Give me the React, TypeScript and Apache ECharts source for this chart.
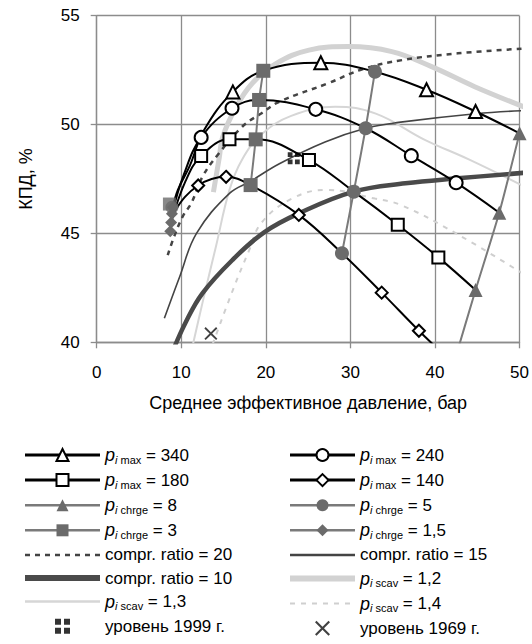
import React, { useEffect, useRef } from "react";
import * as echarts from "echarts";

// ---- data (BMEP, bar ; efficiency, %) ----
const xTicks = [0, 10, 20, 30, 40, 50];
const yTicks = [40, 45, 50, 55];

const pmax340 = [[9.0, 46.2], [9.6, 47.0], [11.0, 48.1], [12.7, 49.75], [16.1, 51.5], [19.7, 52.47], [26.5, 52.84], [32.9, 52.43], [39.0, 51.6], [44.8, 50.6], [50.0, 49.6]];
const pmax340Marks = [4, 6, 8, 9];
const pmax240 = [[8.9, 45.9], [10.3, 47.7], [12.35, 49.41], [16.0, 50.75], [19.2, 51.13], [25.9, 50.7], [31.8, 49.83], [37.2, 48.57], [42.5, 47.33], [47.6, 45.95]];
const pmax240Marks = [2, 3, 5, 7, 8];
const pmax180 = [[8.8, 45.5], [10.5, 47.4], [12.35, 48.56], [15.7, 49.32], [18.8, 49.32], [25.1, 48.37], [30.4, 46.92], [35.6, 45.4], [40.4, 43.9], [44.8, 42.4]];
const pmax180Marks = [2, 3, 5, 7, 8];
const pmax140 = [[8.7, 45.1], [9.2, 46.0], [12.0, 47.2], [15.3, 47.6], [18.2, 47.22], [23.9, 45.85], [29.0, 44.09], [33.7, 42.28], [38.1, 40.53], [40.6, 39.6]];
const pmax140Marks = [2, 3, 5, 7, 8];

const chrge8 = [[42.2, 39.0], [44.8, 42.4], [47.6, 45.95], [50.0, 49.6]];
const chrge5 = [[29.0, 44.09], [30.4, 46.92], [31.8, 49.83], [32.9, 52.43]];
const chrge3 = [[18.2, 47.22], [18.8, 49.32], [19.2, 51.13], [19.7, 52.47]];
const chrge15 = [[8.7, 45.1], [8.8, 45.5], [8.9, 45.9], [9.0, 46.2]];
const chrge3Start = [[8.6, 46.35]];
const chrge5Start = [[8.9, 46.2]];

const compr20 = [[8.4, 44.0], [9.2, 44.9], [10.2, 45.8], [11.2, 46.4], [12.5, 47.6], [14.3, 48.6], [17.2, 49.9], [19.4, 50.5], [21.6, 51.05], [27.4, 51.9], [31.4, 52.54], [36.1, 52.96], [42.7, 53.27], [51.0, 53.5]];
const compr15 = [[8.0, 41.1], [9.8, 43.0], [11.8, 45.0], [15.7, 46.84], [18.2, 47.4], [21.6, 48.2], [27.0, 49.2], [31.8, 49.83], [35.7, 50.1], [44.8, 50.5], [51.0, 50.65]];
const compr10 = [[9.0, 39.6], [10.5, 40.9], [12.5, 42.25], [16.1, 43.8], [19.8, 45.05], [23.9, 45.92], [30.4, 46.92], [36.5, 47.3], [42.7, 47.53], [51.0, 47.8]];

const scav12 = [[13.8, 46.9], [14.5, 48.5], [14.9, 49.44], [16.5, 50.82], [18.4, 51.9], [21.2, 52.8], [25.1, 53.42], [29.8, 53.58], [34.9, 53.35], [39.6, 52.66], [44.7, 51.74], [50.6, 50.8]];
const scav13 = [[11.2, 39.6], [12.5, 41.8], [14.1, 44.4], [15.7, 47.0], [17.2, 48.4], [19.5, 49.55], [23.0, 50.4], [28.2, 50.82], [33.0, 50.5], [38.8, 49.3], [44.0, 48.4], [50.6, 47.15]];
const scav14 = [[13.7, 39.9], [16.1, 42.4], [18.0, 44.2], [19.5, 45.5], [23.1, 46.6], [27.1, 47.0], [32.9, 46.6], [36.0, 46.3], [42.5, 45.0], [50.2, 43.2]];

const level1999 = [[23.3, 48.45]];
const level1969 = [[13.5, 40.4]];

const legendLeft = ["p340", "p180", "c8", "c3", "cr20", "cr10", "s13", "y1999"];
const legendRight = ["p240", "p140", "c5", "c15", "cr15", "s12", "s14", "y1969"];
const plainNames = ["cr20", "cr15", "cr10", "s12", "s13", "s14"];
const legendText: Record<string, string> = {
  p340: "{p|p}{i|i}{s| max}{t| = 340}",
  p240: "{p|p}{i|i}{s| max}{t| = 240}",
  p180: "{p|p}{i|i}{s| max}{t| = 180}",
  p140: "{p|p}{i|i}{s| max}{t| = 140}",
  c8: "{p|p}{i|i}{s| chrge}{t| = 8}",
  c5: "{p|p}{i|i}{s| chrge}{t| = 5}",
  c3: "{p|p}{i|i}{s| chrge}{t| = 3}",
  c15: "{p|p}{i|i}{s| chrge}{t| = 1,5}",
  cr20: "{t|compr. ratio = 20}",
  cr15: "{t|compr. ratio = 15}",
  cr10: "{t|compr. ratio = 10}",
  s12: "{p|p}{i|i}{s| scav}{t| = 1,2}",
  s13: "{p|p}{i|i}{s| scav}{t| = 1,3}",
  s14: "{p|p}{i|i}{s| scav}{t| = 1,4}",
  y1999: "{t|уровень 1999 г.}",
  y1969: "{t|уровень 1969 г.}",
};

const FONT = "Liberation Sans, Arial, sans-serif";
const GRAYM = "#6b6b6b";
const SQ4 = "path://M0,0h4v4h-4zM6,0h4v4h-4zM0,6h4v4h-4zM6,6h4v4h-4z";
const XMARK = "path://M1,0L5,4L9,0L10,1L6,5L10,9L9,10L5,6L1,10L0,9L4,5L0,1Z";

const legendLineWidth: Record<string, number> = {
  p340: 3, p240: 3, p180: 3, p140: 3, c8: 2.5, c5: 2.5, c3: 2.5, c15: 2.5,
  cr20: 2.5, cr15: 2.5, cr10: 6, s12: 6, s13: 2.5, s14: 2,
};

function withMarks(pts: number[][], marks: number[]) {
  return pts.map((p, i) => (marks.includes(i) ? { value: p } : { value: p, symbol: "none" }));
}

function legendData(names: string[]) {
  return names.map((n) => {
    const item: any = { name: n };
    if (legendLineWidth[n]) item.lineStyle = { width: legendLineWidth[n] };
    if (plainNames.includes(n)) item.itemStyle = { opacity: 0, color: "rgba(0,0,0,0)" };
    return item;
  });
}

export default function App() {
  const ref = useRef<HTMLDivElement>(null);
  useEffect(() => {
    if (!ref.current) return;
    const chart = echarts.init(ref.current, null, { renderer: "svg" });
    const pmaxSeries = (name: string, pts: number[][], marks: number[], symbol: string, size: number) => ({
      name, type: "line", data: withMarks(pts, marks), smooth: 0.4, symbol, symbolSize: size, showSymbol: true,
      lineStyle: { color: "#000", width: 2 }, itemStyle: { color: "#fff", borderColor: "#000", borderWidth: 2 }, z: 5,
    });
    const chrgeSeries = (name: string, pts: number[][], symbol: string, size: number) => ({
      name, type: "line", data: pts, smooth: 0.2, symbol, symbolSize: size,
      lineStyle: { color: "#7a7a7a", width: 2 }, itemStyle: { color: GRAYM }, z: 6,
    });
    const plain = (name: string, pts: number[][], color: string, width: number, type: any, z: number) => ({
      name, type: "line", data: pts, smooth: 0.4, symbol: "none", showSymbol: false,
      lineStyle: { color, width, type }, itemStyle: { color, opacity: 0 }, z,
    });
    const rich = {
      p: { fontStyle: "italic", fontSize: 18, fontFamily: FONT, color: "#000", lineHeight: 20 },
      i: { fontStyle: "italic", fontSize: 11, fontFamily: FONT, color: "#000", lineHeight: 10, verticalAlign: "bottom" },
      s: { fontSize: 11, fontFamily: FONT, color: "#000", lineHeight: 10, verticalAlign: "bottom" },
      t: { fontSize: 17, fontFamily: FONT, color: "#000", lineHeight: 20 },
    };
    const legendBase = {
      orient: "vertical", selectedMode: false, itemHeight: 15, itemGap: 6.1, padding: 0,
      textStyle: { rich, fontFamily: FONT, fontSize: 17, color: "#000" },
      formatter: (n: string) => legendText[n],
    };
    chart.setOption({
      animation: false,
      backgroundColor: "#fff",
      grid: { left: 96.7, right: 10.3, top: 15.7, bottom: 301.7 },
      xAxis: {
        type: "value", min: xTicks[0], max: xTicks[xTicks.length - 1], interval: 10,
        name: "Среднее эффективное давление, бар", nameLocation: "middle", nameGap: 52,
        nameTextStyle: { fontFamily: FONT, fontSize: 18, color: "#000" },
        axisLine: { show: true, lineStyle: { color: "#8c8c8c", width: 1.3 } },
        axisTick: { show: true, length: 6, lineStyle: { color: "#8c8c8c", width: 1.3 } },
        axisLabel: { margin: 22, fontFamily: FONT, fontSize: 17, color: "#000" },
        splitLine: { show: true, lineStyle: { color: "#8c8c8c", width: 1.3 } },
      },
      yAxis: {
        type: "value", min: yTicks[0], max: yTicks[yTicks.length - 1], interval: 5,
        name: "КПД, %", nameLocation: "middle", nameGap: 62, nameRotate: 90,
        nameTextStyle: { fontFamily: FONT, fontSize: 18, color: "#000" },
        axisLine: { show: true, lineStyle: { color: "#8c8c8c", width: 1.3 } },
        axisTick: { show: true, length: 6, lineStyle: { color: "#8c8c8c", width: 1.3 } },
        axisLabel: { margin: 17, fontFamily: FONT, fontSize: 17, color: "#000" },
        splitLine: { show: true, lineStyle: { color: "#8c8c8c", width: 1.3 } },
      },
      legend: [
        { ...legendBase, left: 22, top: 446, itemWidth: 75, data: legendData(legendLeft) },
        { ...legendBase, left: 287, top: 446, itemWidth: 65, data: legendData(legendRight) },
      ],
      series: [
        plain("s12", scav12, "#d2d2d2", 5, "solid", 1),
        plain("s13", scav13, "#d6d6d6", 2, "solid", 1),
        plain("s14", scav14, "#cfcfcf", 2, [5, 6], 1),
        plain("cr20", compr20, "#444", 2.5, [5, 5], 2),
        plain("cr15", compr15, "#444", 1.6, "solid", 2),
        plain("cr10", compr10, "#4a4a4a", 4.5, "solid", 2),
        pmaxSeries("p340", pmax340, pmax340Marks, "triangle", 13),
        pmaxSeries("p240", pmax240, pmax240Marks, "circle", 13),
        pmaxSeries("p180", pmax180, pmax180Marks, "rect", 12),
        pmaxSeries("p140", pmax140, pmax140Marks, "diamond", 12),
        chrgeSeries("c8", chrge8, "triangle", 14),
        chrgeSeries("c5", chrge5, "circle", 14),
        chrgeSeries("c3", chrge3, "rect", 14),
        chrgeSeries("c15", chrge15, "diamond", 12),
        { name: "c3start", type: "scatter", data: chrge3Start, symbol: "rect", symbolSize: 13, itemStyle: { color: GRAYM }, z: 6 },
        { name: "c5start", type: "scatter", data: chrge5Start, symbol: "circle", symbolSize: 13, itemStyle: { color: GRAYM }, z: 6 },
        { name: "y1999", type: "scatter", data: level1999, symbol: SQ4, symbolSize: 12, itemStyle: { color: "#000" }, z: 8 },
        { name: "y1969", type: "scatter", data: level1969, symbol: XMARK, symbolSize: 13, itemStyle: { color: "#111" }, z: 8 },
      ],
    });
    return () => chart.dispose();
  }, []);
  return <div ref={ref} style={{ position: "fixed", left: 0, top: 0, width: 532, height: 644 }} />;
}
